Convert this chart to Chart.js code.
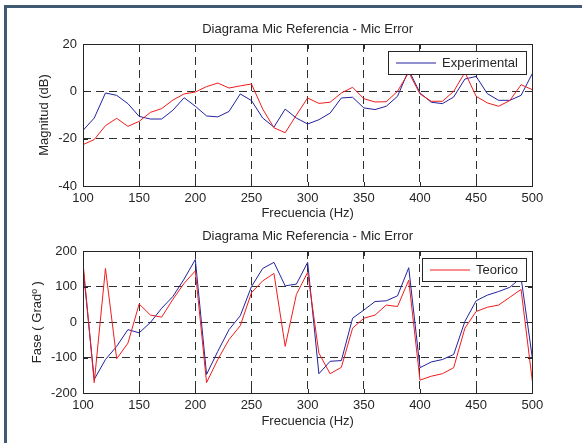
<!DOCTYPE html>
<html lang="es">
<head>
<meta charset="UTF-8">
<title>Diagrama Mic Referencia - Mic Error</title>
<script src="https://cdn.jsdelivr.net/npm/chart.js"></script>
<style>
    body { margin: 0; background: #fff; }
    #fig { position: relative; width: 582px; height: 443px; overflow: hidden; background: #fff; }
    #frame { position: absolute; left: 4px; top: 5px; right: -10px; bottom: -10px;
             border-left: 3px solid #405a74; border-top: 3px solid #405a74; }
    canvas { position: absolute; left: 0; }
    #magChart { top: 0; }
    #phaseChart { top: 225px; }
</style>
</head>
<body>
<div id="fig">
    <div id="frame"></div>
    <canvas id="magChart" width="582" height="225"></canvas>
    <canvas id="phaseChart" width="582" height="218"></canvas>
</div>
<script>
// Frequency points (Hz)
const freqs = [100, 110, 120, 130, 140, 150, 160, 170, 180, 190,
               200, 210, 220, 230, 240, 250, 260, 270, 280, 290,
               300, 310, 320, 330, 340, 350, 360, 370, 380, 390,
               400, 410, 420, 430, 440, 450, 460, 470, 480, 490, 500];

// Magnitude (dB)
const magExperimental = [-16.5, -11.3, -0.7, -1.7, -5.2, -10.6, -11.7, -11.7, -8.0, -2.7,
                         -6.3, -10.4, -10.8, -8.5, -1.1, -3.9, -11.3, -15.1, -7.5, -11.3,
                         -13.8, -12.0, -9.2, -2.8, -2.5, -7.0, -7.7, -6.3, -2.1, 9.0,
                         -0.7, -4.6, -5.2, -2.4, 5.2, 6.3, -1.0, -3.8, -3.8, -1.7, 7.5];
const magTeorico = [-22.5, -20.4, -14.5, -11.4, -14.8, -12.7, -8.9, -7.3, -3.7, -1.1,
                    -0.3, 2.0, 3.5, 1.4, 2.3, 3.1, -7.5, -15.4, -17.5, -10.0,
                    -2.8, -5.1, -4.6, -0.7, 1.7, -3.1, -4.5, -4.4, 0.0, 8.0,
                    -1.1, -4.2, -4.2, 0.0, 8.0, -2.1, -4.9, -6.3, -3.9, 2.8, 0.7];

// Phase (degrees)
const faseExperimental = [155, -161, -105, -68, -21, -30, -1, 39, 72, 121,
                          176, -147, -82, -21, 18, 100, 151, 168, 102, 107,
                          168, -145, -110, -108, 11, 34, 58, 60, 74, 153,
                          -128, -112, -105, -91, 2, 60, 76, 86, 98, 125, -100];
const faseTeorico = [168, -170, 151, -103, -59, 51, 20, 14, 64, 109,
                     144, -170, -105, -49, -10, 83, 116, 137, -68, 78,
                     140, -87, -145, -127, -17, 11, 20, 48, 44, 118,
                     -163, -152, -145, -128, -17, 30, 42, 48, 70, 92, -165];

// Tick labels
const freqTicks = [100, 150, 200, 250, 300, 350, 400, 450, 500];
const magTicks = [-40, -20, 0, 20];
const faseTicks = [-200, -100, 0, 100, 200];

const INK = '#262626';
const FONT_FAMILY = "'Liberation Sans', Arial, Helvetica, sans-serif";
const BLUE = '#2222a0';
const RED = '#f01c1c';

// Axes box, inward ticks, title and boxed legend (MATLAB look)
const matlabAxes = {
    id: 'matlabAxes',
    afterDatasetsDraw(chart, args, opts) {
        const { ctx, chartArea: a, scales } = chart;
        ctx.save();
        ctx.strokeStyle = INK;
        ctx.lineWidth = 1;
        ctx.setLineDash([]);
        const L = Math.round(a.left) + 0.5, R = Math.round(a.right) + 0.5;
        const T = Math.round(a.top) + 0.5, B = Math.round(a.bottom) + 0.5;
        ctx.strokeRect(L, T, R - L, B - T);

        const len = 4.5;
        ctx.beginPath();
        scales.x.ticks.forEach(t => {
            const px = Math.round(scales.x.getPixelForValue(t.value)) + 0.5;
            ctx.moveTo(px, B); ctx.lineTo(px, B - len);
            ctx.moveTo(px, T); ctx.lineTo(px, T + len);
        });
        scales.y.ticks.forEach(t => {
            const py = Math.round(scales.y.getPixelForValue(t.value)) + 0.5;
            ctx.moveTo(L, py); ctx.lineTo(L + len, py);
            ctx.moveTo(R, py); ctx.lineTo(R - len, py);
        });
        ctx.stroke();

        // title
        ctx.font = '13px ' + FONT_FAMILY;
        ctx.fillStyle = INK;
        ctx.textAlign = 'center';
        ctx.textBaseline = 'middle';
        ctx.fillText(opts.title, (a.left + a.right) / 2, a.top - 15);

        // legend (one entry)
        const ds = chart.data.datasets[opts.legendIndex];
        const tw = ctx.measureText(ds.label).width;
        const w = Math.round(8 + 40 + 6 + tw + 8), h = 23;
        const x0 = Math.round(a.right - 6 - w), y0 = Math.round(a.top + 7);
        ctx.fillStyle = '#fff';
        ctx.fillRect(x0, y0, w, h);
        ctx.strokeRect(x0 + 0.5, y0 + 0.5, w, h);
        ctx.strokeStyle = ds.borderColor;
        ctx.beginPath();
        ctx.moveTo(x0 + 8, y0 + h / 2 + 0.5);
        ctx.lineTo(x0 + 48, y0 + h / 2 + 0.5);
        ctx.stroke();
        ctx.fillStyle = INK;
        ctx.textAlign = 'left';
        ctx.fillText(ds.label, x0 + 54, y0 + h / 2 + 1);
        ctx.restore();
    }
};

function series(values) {
    return freqs.map((f, i) => ({ x: f, y: values[i] }));
}

function makeChart(id, cfg) {
    return new Chart(document.getElementById(id), {
        type: 'line',
        data: {
            datasets: [
                { label: 'Experimental', data: series(cfg.exp), borderColor: BLUE, order: 1 },
                { label: 'Teorico', data: series(cfg.teo), borderColor: RED, order: 0 }
            ]
        },
        options: {
            responsive: false,
            animation: false,
            devicePixelRatio: 1,
            layout: { padding: { top: cfg.padTop, right: 49.7, left: 0, bottom: 0 } },
            elements: {
                line: { borderWidth: 1, tension: 0, fill: false },
                point: { radius: 0, hoverRadius: 0 }
            },
            plugins: {
                legend: { display: false },
                tooltip: { enabled: false },
                matlabAxes: { title: 'Diagrama Mic Referencia - Mic Error', legendIndex: cfg.legendIndex }
            },
            scales: {
                x: {
                    type: 'linear',
                    min: 100, max: 500,
                    afterBuildTicks: s => { s.ticks = freqTicks.map(v => ({ value: v })); },
                    afterFit: s => { s.height = cfg.xHeight; },
                    grid: { color: '#303030', lineWidth: 1, drawTicks: false },
                    border: { display: false, dash: [8, 5] },
                    ticks: { color: INK, font: { family: FONT_FAMILY, size: 13 }, padding: 4.5,
                             maxRotation: 0, autoSkip: false },
                    title: { display: true, text: 'Frecuencia (Hz)', color: INK,
                             font: { family: FONT_FAMILY, size: 13 },
                             padding: { top: 0, bottom: cfg.xTitlePad } }
                },
                y: {
                    min: cfg.yMin, max: cfg.yMax,
                    afterBuildTicks: s => { s.ticks = cfg.yTicks.map(v => ({ value: v })); },
                    afterFit: s => { s.width = 83; },
                    grid: { color: '#303030', lineWidth: 1, drawTicks: false },
                    border: { display: false, dash: [8, 5] },
                    ticks: { color: INK, font: { family: FONT_FAMILY, size: 13 }, padding: 6 },
                    title: { display: true, text: cfg.yLabel, color: INK,
                             font: { family: FONT_FAMILY, size: 13 },
                             padding: { top: cfg.yTitlePad, bottom: 0 } }
                }
            }
        },
        plugins: [matlabAxes]
    });
}

makeChart('magChart', {
    exp: magExperimental, teo: magTeorico,
    yMin: -40, yMax: 20, yTicks: magTicks, yLabel: 'Magnitud (dB)',
    padTop: 44, xHeight: 39, xTitlePad: 3.4, yTitlePad: 36.8, legendIndex: 0
});

makeChart('phaseChart', {
    exp: faseExperimental, teo: faseTeorico,
    yMin: -200, yMax: 200, yTicks: faseTicks, yLabel: 'Fase ( Gradº )',
    padTop: 26, xHeight: 49.7, xTitlePad: 13.7, yTitlePad: 29.6, legendIndex: 1
});
</script>
</body>
</html>
